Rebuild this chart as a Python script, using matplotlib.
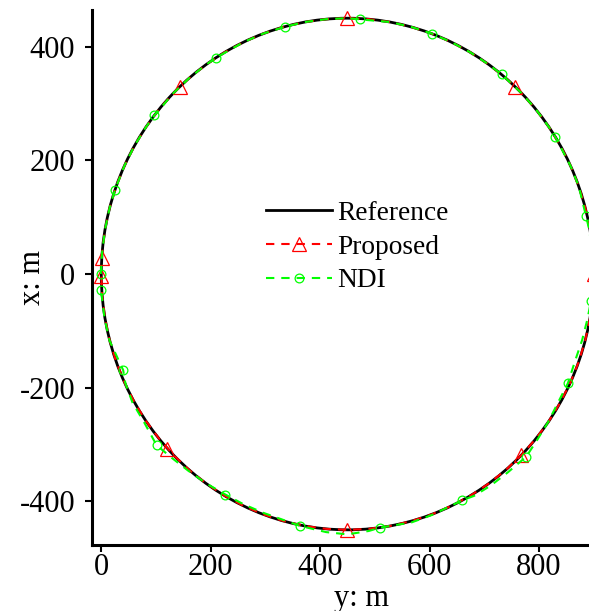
import matplotlib
matplotlib.use("Agg")
import matplotlib.pyplot as plt
from matplotlib.patches import Circle
from matplotlib.lines import Line2D

# horizontal axis = y (m), vertical axis = x (m)
# Reference trajectory: circle
ref_center_y = 450
ref_center_x = 0
ref_radius = 450

# Proposed trajectory (dashed line) and its triangle markers
prop_y = [1, 1.7, 6.8, 15.3, 27.1, 42.2, 60.3, 81.4, 105.3, 131.8, 160.7, 191.9, 225.0, 259.8,
          296.1, 333.5, 371.9, 410.8, 450, 489.2, 528.1, 566.5, 603.9, 640.2, 675.0, 708.1,
          739.3, 768.2, 794.7, 818.6, 839.7, 857.8, 872.9, 884.7, 893.2, 898.3, 900, 898.3,
          893.2, 884.7, 872.9, 857.8, 839.7, 818.6, 794.7, 768.2, 739.3, 708.1, 675.0, 640.2,
          603.9, 566.5, 528.1, 489.2, 450, 410.8, 371.9, 333.5, 296.1, 259.8, 225.0, 191.9,
          160.7, 131.8, 105.3, 81.4, 60.3, 42.2, 27.1, 15.3, 6.8, 1.7, 0]
prop_x = [28, 39.2, 78.1, 116.5, 153.9, 190.2, 225.0, 258.1, 289.3, 318.2, 344.7, 368.6, 389.7,
          407.8, 422.9, 434.7, 443.2, 448.3, 450, 448.3, 443.2, 434.7, 422.9, 407.8, 389.7,
          368.6, 344.7, 318.2, 289.3, 258.1, 225.0, 190.2, 153.9, 116.5, 78.1, 39.2, 0, -39.2,
          -78.1, -116.5, -153.9, -190.2, -225.0, -258.1, -289.3, -318.2, -344.7, -368.6,
          -389.7, -407.8, -422.9, -434.7, -443.2, -448.3, -450, -448.3, -443.2, -434.7, -422.9,
          -407.8, -389.7, -368.6, -344.7, -318.2, -289.3, -258.1, -225.0, -190.2, -153.9,
          -116.5, -78.1, -39.2, -3]
prop_mark_y = [1, 143, 450, 757, 900, 768, 450, 121, 0]
prop_mark_x = [28, 329, 450, 329, 0, -318, -450, -307, -3]

# NDI trajectory (dashed line) and its circle markers
ndi_y = [-1, 1.7, 6.8, 15.3, 25, 42.2, 60.3, 81.4, 97, 131.8, 160.7, 191.9, 209, 259.8, 296.1,
         336, 371.9, 410.8, 450, 472, 528.1, 566.5, 604, 640.2, 675, 708.1, 732, 768.2, 794.7,
         818.6, 830, 857.8, 872.9, 886, 892, 897, 898, 895, 889, 879, 866, 853, 836, 817, 796,
         777, 743, 712, 682, 660, 604, 567, 510, 489, 450, 411, 363, 334, 296, 260, 227, 193,
         159, 127, 101, 79, 57, 44, 40, 15, 6, 1, -1]
ndi_x = [0, 39.2, 78.1, 116.5, 148, 190.2, 225, 258.1, 279, 318.2, 344.7, 368.6, 380, 407.8,
         422.9, 435, 443.2, 448.3, 450, 448, 443.2, 434.7, 423, 407.8, 389.7, 368.6, 351, 318.2,
         289.3, 258.1, 241, 190.2, 153.9, 102, 78, 39, 0, -48, -78, -116, -153, -192, -224,
         -260, -293, -321, -349, -372, -390, -398, -424, -437, -446, -452, -458, -454, -443,
         -433, -420, -405, -388, -369, -346, -322, -301, -262, -226, -192, -169, -117, -78,
         -40, -28]
ndi_mark_y = [-1, 25, 97, 209, 336, 472, 604, 732, 830, 886, 895, 853, 777, 660, 510, 363, 227,
              101, 40, -1]
ndi_mark_x = [0, 148, 279, 380, 435, 448, 423, 351, 241, 102, -48, -192, -321, -398, -446,
              -443, -388, -301, -169, -28]

x_ticks = [0, 200, 400, 600, 800]
y_ticks = [-400, -200, 0, 200, 400]

plt.rcParams['font.family'] = ['Liberation Serif', 'DejaVu Serif']
plt.rcParams['axes.unicode_minus'] = False
plt.rcParams['lines.scale_dashes'] = False

GREEN = '#00ff00'
fig = plt.figure(figsize=(5.89, 6.11), dpi=100)
ax = fig.add_axes([0.1557, 0.108, 0.8443, 0.8756])

ax.add_patch(Circle((ref_center_y, ref_center_x), ref_radius, fill=False, ec='black', lw=2.0))
ax.plot(prop_y, prop_x, color='red', lw=1.5, dashes=(6, 5))
ax.plot(prop_mark_y, prop_mark_x, ls='none', marker='^', ms=9.5, mfc='none', mec='red', mew=0.9)
ax.plot(ndi_y, ndi_x, color=GREEN, lw=1.5, dashes=(6, 5))
ax.plot(ndi_mark_y, ndi_mark_x, ls='none', marker='o', ms=6.3, mfc='none', mec=GREEN, mew=0.9)

ax.set_xlim(-17.5, 891.5)
ax.set_ylim(-476.7, 464.4)
ax.set_xticks(x_ticks)
ax.set_yticks(y_ticks)

for s in ['top', 'right']:
    ax.spines[s].set_visible(False)
for s in ['left', 'bottom']:
    ax.spines[s].set_linewidth(2.2)
ax.tick_params(direction='out', length=5, width=1.5, labelsize=22)
ax.tick_params(axis='x', pad=1)
ax.tick_params(axis='y', pad=7)

ax.set_xlabel('y: m', fontsize=22)
ax.set_ylabel('x: m', fontsize=22)
ax.xaxis.set_label_coords(0.5435, -0.072)
ax.yaxis.set_label_coords(-0.09, 0.5)

handles = [
    Line2D([], [], color='black', lw=2.0),
    Line2D([], [], color='red', lw=1.5, dashes=(6, 5), marker='^', ms=9.5, mfc='none', mec='red', mew=0.9),
    Line2D([], [], color=GREEN, lw=1.5, dashes=(6, 5), marker='o', ms=6.3, mfc='none', mec=GREEN, mew=0.9),
]
ax.legend(handles, ['Reference', 'Proposed', 'NDI'], loc='center', bbox_to_anchor=(0.5345, 0.557),
          frameon=False, fontsize=19.7, handlelength=2.4, handletextpad=0.22, labelspacing=0.31,
          borderpad=0)

fig.savefig('out.png', dpi=100)
